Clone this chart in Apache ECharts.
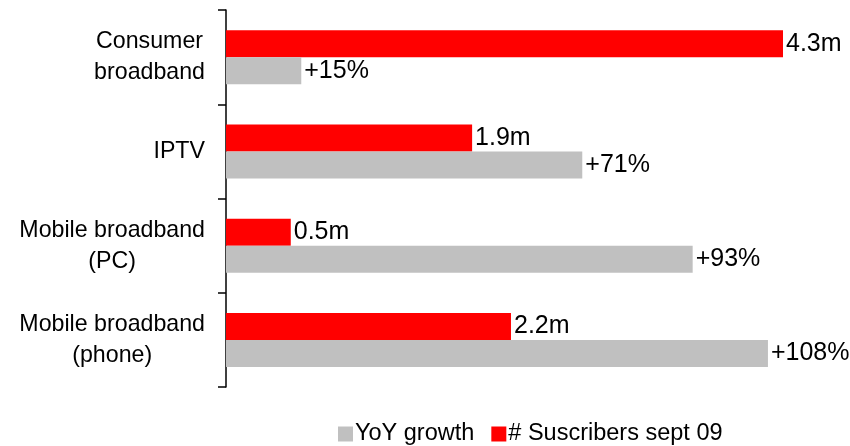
<!DOCTYPE html>
<html>
<head>
<meta charset="utf-8">
<script src="https://cdn.jsdelivr.net/npm/echarts@6/dist/echarts.min.js"></script>
<style>
  html, body { margin: 0; padding: 0; background: #fff; }
  #main { width: 850px; height: 446px; }
</style>
</head>
<body>
<div id="main"></div>
<script>
// data
const categories = ['Consumer\nbroadband', 'IPTV', 'Mobile broadband\n(PC)', 'Mobile broadband\n(phone)']
const subscribers = [4.3, 1.9, 0.5, 2.2] // millions, sept 09
const yoyGrowth = [15, 71, 93, 108] // %

const chartDom = document.getElementById('main')
const myChart = echarts.init(chartDom)
const font = 'Liberation Sans, Arial, sans-serif'

const option = {
  animation: false,
  textStyle: { fontFamily: font },
  grid: { left: 226, right: 67, top: 10, bottom: 59 },
  legend: {
    top: 417,
    left: 333,
    data: ['YoY growth', '# Suscribers sept 09'],
    itemWidth: 15,
    itemHeight: 15,
    itemGap: 17,
    icon: 'rect',
    textStyle: { fontSize: 23.5, color: '#000', fontFamily: font, padding: [0, 0, 0, -3] }
  },
  xAxis: [
    { type: 'value', min: 0, max: 4.3, show: false },
    { type: 'value', min: 0, max: 111, show: false }
  ],
  yAxis: {
    type: 'category',
    data: categories,
    inverse: true,
    axisLine: { lineStyle: { color: '#000', width: 1.5 } },
    axisTick: { show: true, length: 8, lineStyle: { color: '#000', width: 1.5 } },
    axisLabel: {
      color: '#000',
      margin: 21,
      align: 'right',
      formatter: (v) => v.split('\n').map((s) => '{c|' + s + '}').join('\n'),
      rich: { c: { align: 'center', fontSize: 23.2, lineHeight: 31, color: '#000', fontFamily: font } }
    },
    splitLine: { show: false }
  },
  series: [
    {
      name: '# Suscribers sept 09',
      type: 'bar',
      xAxisIndex: 0,
      data: subscribers,
      barWidth: 27,
      barGap: '0%',
      itemStyle: { color: '#ff0000' },
      label: { show: true, position: 'right', distance: 3, fontSize: 25, color: '#000', formatter: '{c}m' }
    },
    {
      name: 'YoY growth',
      type: 'bar',
      xAxisIndex: 1,
      data: yoyGrowth,
      barWidth: 27,
      barGap: '0%',
      itemStyle: { color: '#c0c0c0' },
      label: { show: true, position: 'right', distance: 3, fontSize: 25, color: '#000', formatter: '+{c}%' }
    }
  ]
}
option && myChart.setOption(option)
</script>
</body>
</html>
